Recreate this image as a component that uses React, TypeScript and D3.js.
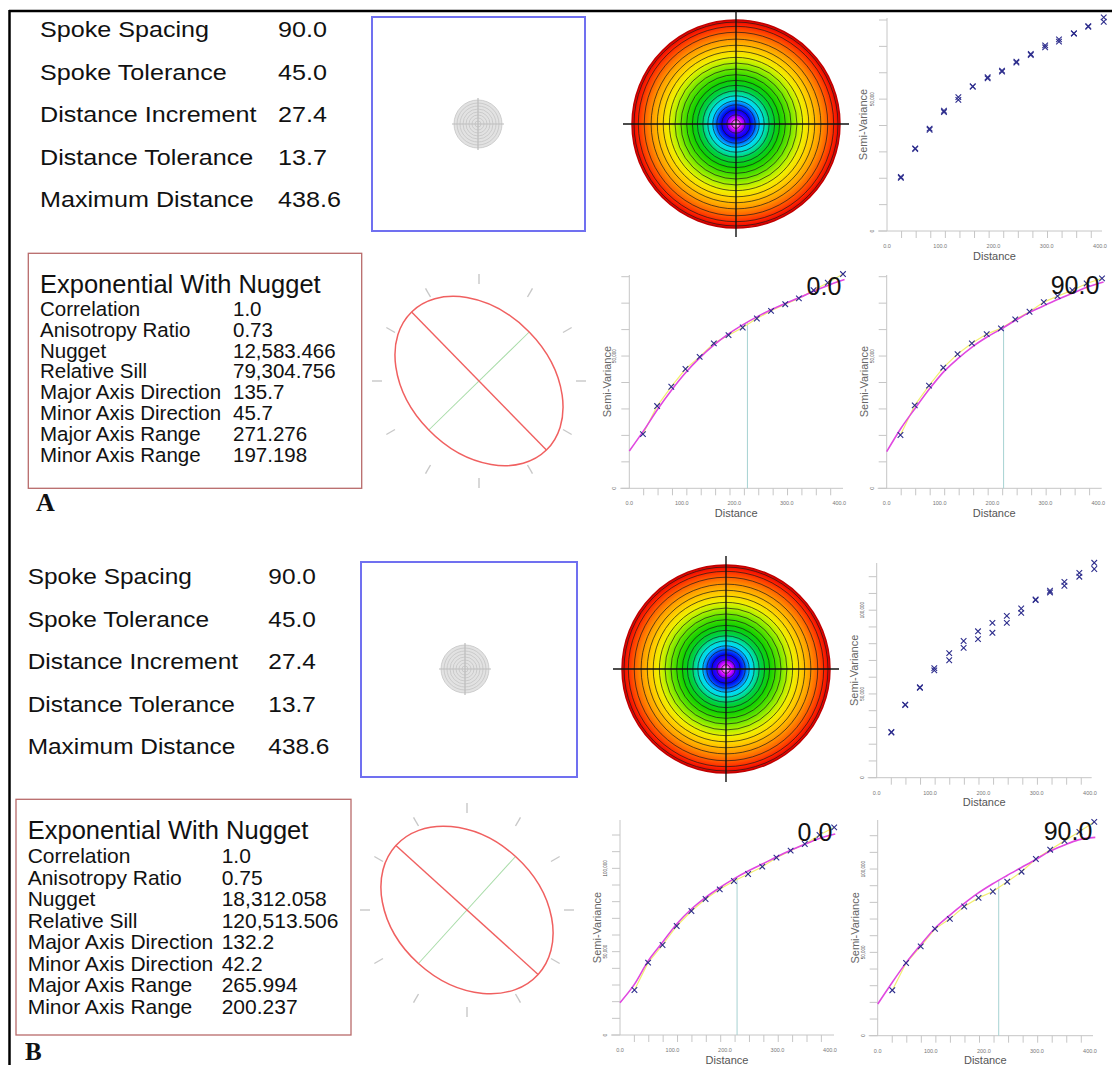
import React from "react";
import * as d3 from "d3";

// ---------- data ----------
const spokeLabels = ["Spoke Spacing", "Spoke Tolerance", "Distance Increment", "Distance Tolerance", "Maximum Distance"];
const spokeValuesA = ["90.0", "45.0", "27.4", "13.7", "438.6"];
const spokeValuesB = ["90.0", "45.0", "27.4", "13.7", "438.6"];

const modelTitle = "Exponential With Nugget";
const modelLabels = ["Correlation", "Anisotropy Ratio", "Nugget", "Relative Sill", "Major Axis Direction", "Minor Axis Direction", "Major Axis Range", "Minor Axis Range"];
const modelValuesA = ["1.0", "0.73", "12,583.466", "79,304.756", "135.7", "45.7", "271.276", "197.198"];
const modelValuesB = ["1.0", "0.75", "18,312.058", "120,513.506", "132.2", "42.2", "265.994", "200.237"];

const ellipseA = [271.276, 197.198, 135.7]; // major range, minor range, major direction
const ellipseB = [265.994, 200.237, 132.2];

const lagA = [26, 53, 80, 107, 134, 161, 189, 216, 243, 270, 297, 323, 351, 378, 407];
const gammaA0 = [20500, 31100, 38400, 45100, 49700, 54800, 57900, 60800, 64200, 67100, 69600, 71800, 74900, 77700, 81000];
const gammaA90 = [20150, 31350, 38800, 45600, 50750, 54800, 58300, 60450, 63850, 66750, 70400, 72650, 74900, 77450, 79350];

const lagB = [27.5, 53.5, 81, 108, 136, 163, 190, 217, 244, 271, 298, 325, 352, 380, 408];
const gammaB0 = [27000, 43400, 54000, 65400, 74400, 81600, 87400, 92400, 96600, 101000, 106400, 110600, 114600, 120000, 124600];
const gammaB90 = [27300, 43600, 53600, 64100, 70100, 77500, 82700, 86500, 92400, 98400, 106000, 111600, 116900, 122300, 128300];

const modelDist = [0, 27, 54, 81, 108, 135, 162, 189, 216, 243, 270, 297, 324, 351, 378, 410];
const modelA0 = [14100, 21700, 29900, 37300, 43900, 49500, 54300, 58400, 61800, 64800, 67500, 69900, 72100, 74500, 76700, 78900];
const modelA90 = [13850, 22700, 30300, 37600, 44100, 49100, 53500, 57100, 60200, 63450, 66500, 69000, 71500, 73700, 76000, 78000];
const modelB0 = [19400, 30200, 44600, 55600, 66600, 75300, 82300, 88200, 93500, 98200, 102400, 106700, 110700, 114300, 117800, 120600];
const modelB90 = [19000, 31800, 44000, 54600, 64500, 72100, 79100, 85500, 91000, 96000, 100800, 105600, 110600, 114300, 117500, 119000];

const rangeA = [225, 221];
const rangeB = [223, 228];

const xTickValues = [0, 100, 200, 300, 400];
const lagTicks = [27.4, 54.8, 82.2, 109.6, 137, 164.4, 191.8, 219.2, 246.6, 274, 301.4, 328.8, 356.2, 383.6, 411];
const yLabelsA = [50000];
const yLabelsB = [50000, 100000];

const contourRings = [18, 39, 60, 81, 98, 119, 140, 163, 184, 208, 232, 257, 281, 307, 332, 358, 387, 412, 430];
const maxDistance = 438.6;
const compassAngles = [0, 30, 60, 90, 120, 150, 180, 210, 240, 270, 300, 330];
const targetRings = [54.8, 109.6, 164.4, 219.2, 274, 328.8, 383.6, 438.6];

const rainbowStops: [number, string][] = [
  [0, "#ffffff"], [0.03, "#ff50ff"], [0.065, "#c000ff"], [0.1, "#3000ff"], [0.14, "#0000f0"],
  [0.19, "#0068ff"], [0.23, "#00d8ff"], [0.28, "#00e0b8"], [0.34, "#00d040"], [0.42, "#10d000"],
  [0.5, "#50e000"], [0.58, "#a8f000"], [0.65, "#f0f000"], [0.72, "#ffd000"], [0.8, "#ffa000"],
  [0.88, "#ff6000"], [0.95, "#ff2000"], [1, "#e00000"],
];

const FONT = "'Liberation Sans', Arial, Helvetica, sans-serif";

// ---------- components ----------
function SpokeBlock({ x, xv, y0, step, fs, sx, values }: any) {
  return (
    <g fontSize={fs} fill="#111">
      {spokeLabels.map((l, i) => (
        <g key={l}>
          <text transform={`translate(${x},${y0 + i * step}) scale(${sx},1)`}>{l}</text>
          <text transform={`translate(${xv},${y0 + i * step}) scale(${sx},1)`}>{values[i]}</text>
        </g>
      ))}
    </g>
  );
}

function ModelBox({ x0, y0, x1, y1, tx, vx, titleY, itemY, step, tfs, fs, values }: any) {
  return (
    <g fill="#111">
      <rect x={x0} y={y0} width={x1 - x0} height={y1 - y0} fill="none" stroke="#b86a6a" strokeWidth={1.3} />
      <text transform={`translate(${tx},${titleY}) scale(1.02,1)`} fontSize={tfs}>{modelTitle}</text>
      {modelLabels.map((l, i) => (
        <g key={l} fontSize={fs}>
          <text x={tx} y={itemY + i * step}>{l}</text>
          <text x={vx} y={itemY + i * step}>{values[i]}</text>
        </g>
      ))}
    </g>
  );
}

function TargetBox({ x0, y0, x1, y1, cx, cy }: any) {
  const r = d3.scaleLinear().domain([0, maxDistance]).range([0, 24]);
  return (
    <g>
      <rect x={x0} y={y0} width={x1 - x0} height={y1 - y0} fill="#fff" stroke="#7070f0" strokeWidth={2} />
      <circle cx={cx} cy={cy} r={r(maxDistance)} fill="#e2e2e2" />
      {targetRings.map((d) => (
        <circle key={d} cx={cx} cy={cy} r={r(d)} fill="none" stroke="#c4c4c4" strokeWidth={0.8} />
      ))}
      <line x1={cx - 26} x2={cx + 26} y1={cy} y2={cy} stroke="#bdbdbd" strokeWidth={1.2} />
      <line x1={cx} x2={cx} y1={cy - 26} y2={cy + 26} stroke="#bdbdbd" strokeWidth={1.2} />
    </g>
  );
}

function ContourDisc({ cx, cy, r, id }: any) {
  const rs = d3.scaleLinear().domain([0, maxDistance]).range([0, r]);
  return (
    <g>
      <defs>
        <radialGradient id={id} cx="50%" cy="50%" r="50%">
          {rainbowStops.map(([o, c]) => (
            <stop key={o} offset={o} stopColor={c} />
          ))}
        </radialGradient>
      </defs>
      <circle cx={cx} cy={cy} r={r} fill={`url(#${id})`} />
      {contourRings.map((d) => (
        <circle key={d} cx={cx} cy={cy} r={rs(d)} fill="none" stroke="#1a1a1a" strokeOpacity={0.7} strokeWidth={1} />
      ))}
      <circle cx={cx} cy={cy} r={r} fill="none" stroke="#c00000" strokeWidth={1.5} />
      <line x1={cx - r - 9} x2={cx + r + 9} y1={cy} y2={cy} stroke="#111" strokeWidth={1.4} />
      <line x1={cx} x2={cx} y1={cy - r - 9} y2={cy + r + 9} stroke="#111" strokeWidth={1.4} />
    </g>
  );
}

function EllipsePanel({ cx, cy, params, majorPx }: any) {
  const [major, minor, dir] = params;
  const s = d3.scaleLinear().domain([0, major]).range([0, majorPx]);
  const a = s(major);
  const b = s(minor);
  return (
    <g>
      {compassAngles.map((ang) => {
        const t = (ang * Math.PI) / 180;
        const ux = Math.sin(t), uy = -Math.cos(t);
        return (
          <line key={ang} x1={cx + ux * 97} y1={cy + uy * 97} x2={cx + ux * 107} y2={cy + uy * 107} stroke="#c8c8c8" strokeWidth={1.4} />
        );
      })}
      <g transform={`translate(${cx},${cy}) rotate(${dir - 90})`}>
        <line x1={0} x2={0} y1={-b} y2={b} stroke="#a8dca8" strokeWidth={1} />
        <line x1={-a} x2={a} y1={0} y2={0} stroke="#f06060" strokeWidth={1.4} />
        <ellipse cx={0} cy={0} rx={a} ry={b} fill="none" stroke="#f06060" strokeWidth={1.5} />
      </g>
    </g>
  );
}

function VarioChart(p: any) {
  const { axisX, x400, xEnd, yBottom, yAxisTop, yTopTick, yMax, labelValues, series, model, range, title, titleCx, titleCy, semiOff } = p;
  const x = d3.scaleLinear().domain([0, 400]).range([axisX, x400]);
  const y = d3.scaleLinear().domain([0, yMax]).range([yBottom, yTopTick]);
  const yTicks = d3.range(0, yMax + 1, 10000);
  const gray = "#c6c6c6";
  const mark = "M-2.8,-2.8L2.8,2.8M-2.8,2.8L2.8,-2.8";
  const line = d3
    .line<number>()
    .x((_, i) => x(modelDist[i]))
    .y((d) => y(d))
    .curve(d3.curveMonotoneX);
  let rangeTop = 0;
  if (model && range !== undefined) {
    rangeTop = y(d3.scaleLinear().domain(modelDist).range(model)(range));
  }
  const midY = (yAxisTop + yBottom) / 2;
  return (
    <g>
      <line x1={axisX} x2={axisX} y1={yAxisTop} y2={yBottom} stroke={gray} strokeWidth={1} />
      <line x1={axisX - 9} x2={xEnd} y1={yBottom} y2={yBottom} stroke={gray} strokeWidth={1} />
      {yTicks.map((t: number) => (
        <line key={t} x1={axisX - 8} x2={axisX} y1={y(t)} y2={y(t)} stroke={gray} />
      ))}
      {lagTicks.filter((t) => x(t) <= xEnd + 1).map((t) => (
        <line key={t} x1={x(t)} x2={x(t)} y1={yBottom} y2={yBottom + 7} stroke={gray} />
      ))}
      {xTickValues.map((t) => (
        <text key={t} x={x(t)} y={yBottom + 17} fontSize={5.5} textAnchor="middle" fill="#777">
          {t.toFixed(1)}
        </text>
      ))}
      <text x={(axisX + xEnd) / 2} y={yBottom + 28.5} fontSize={11} textAnchor="middle" fill="#555">
        Distance
      </text>
      <text transform={`translate(${axisX - semiOff + 4},${midY}) rotate(-90)`} fontSize={11} textAnchor="middle" fill="#666">
        Semi-Variance
      </text>
      <text transform={`translate(${axisX - 13},${y(0)}) rotate(-90)`} fontSize={5} textAnchor="middle" fill="#555">
        0
      </text>
      {labelValues.map((v: number) => (
        <text key={v} transform={`translate(${axisX - 13},${y(v)}) rotate(-90)`} fontSize={4.5} textAnchor="middle" fill="#444">
          {d3.format(",")(v)}
        </text>
      ))}
      {model && range !== undefined && (
        <line x1={x(range)} x2={x(range)} y1={yBottom} y2={rangeTop} stroke="#a6d2d2" strokeWidth={1} />
      )}
      {model && series.length === 1 && (
        <path
          d={d3.line<number>().x((_, i) => x(series[0].lag[i])).y((d) => y(d))(series[0].gamma) || ""}
          fill="none"
          stroke="#f2ee70"
          strokeWidth={1.2}
        />
      )}
      {model && <path d={line(model) || ""} fill="none" stroke="#e048e0" strokeWidth={1.6} />}
      {series.map((s: any, si: number) =>
        s.gamma.map((g: number, i: number) => (
          <path key={`${si}-${i}`} d={mark} transform={`translate(${x(s.lag[i])},${y(g)})`} stroke="#2c2c8c" strokeWidth={1.1} fill="none" />
        ))
      )}
      {title && (
        <text x={titleCx} y={titleCy + 9} fontSize={25} textAnchor="middle" fill="#111">
          {title}
        </text>
      )}
    </g>
  );
}

export default function App() {
  return (
    <svg
      width={1112}
      height={1065}
      viewBox="0 0 1112 1065"
      style={{ position: "absolute", left: 0, top: 0, background: "#fff" }}
      fontFamily={FONT}
    >
      <rect width={1112} height={1065} fill="#fff" />
      {/* frame */}
      <line x1={9} x2={1112} y1={11} y2={11} stroke="#000" strokeWidth={2.5} />
      <line x1={9.5} x2={9.5} y1={10} y2={1065} stroke="#000" strokeWidth={2.5} />

      {/* ---------- Panel A ---------- */}
      <SpokeBlock x={40} xv={278} y0={37} step={42.5} fs={21.5} sx={1.17} values={spokeValuesA} />
      <TargetBox x0={372} y0={17} x1={585} y1={231} cx={478} cy={124} />
      <ContourDisc cx={736} cy={124} r={104} id="rainA" />
      <VarioChart
        axisX={887} x400={1100} xEnd={1102} yBottom={231} yAxisTop={18} yTopTick={20} yMax={80000}
        labelValues={yLabelsA}
        series={[{ lag: lagA, gamma: gammaA0 }, { lag: lagA, gamma: gammaA90 }]}
        semiOff={24}
      />
      <ModelBox x0={28.3} y0={253.3} x1={361.7} y1={488.3} tx={40} vx={233} titleY={293} itemY={316} step={20.8} tfs={25} fs={20.5} values={modelValuesA} />
      <EllipsePanel cx={479} cy={381} params={ellipseA} majorPx={96.5} />
      <VarioChart
        axisX={629.3} x400={839.3} xEnd={843} yBottom={488.3} yAxisTop={275} yTopTick={276.7} yMax={80000}
        labelValues={yLabelsA}
        series={[{ lag: lagA, gamma: gammaA0 }]}
        model={modelA0} range={rangeA[0]} title="0.0" titleCx={824} titleCy={286} semiOff={22}
      />
      <VarioChart
        axisX={886.7} x400={1098.3} xEnd={1101.7} yBottom={488.3} yAxisTop={275} yTopTick={276.7} yMax={80000}
        labelValues={yLabelsA}
        series={[{ lag: lagA, gamma: gammaA90 }]}
        model={modelA90} range={rangeA[1]} title="90.0" titleCx={1075} titleCy={285} semiOff={23}
      />
      <text x={36} y={511} fontFamily="'Liberation Serif', 'Times New Roman', serif" fontWeight="bold" fontSize={26} fill="#111">
        A
      </text>

      {/* ---------- Panel B ---------- */}
      <SpokeBlock x={27.7} xv={268.3} y0={584} step={42.6} fs={22} sx={1.11} values={spokeValuesB} />
      <TargetBox x0={361} y0={562} x1={577} y1={777} cx={465} cy={669} />
      <ContourDisc cx={726} cy={669} r={104} id="rainB" />
      <VarioChart
        axisX={876.7} x400={1090} xEnd={1091.7} yBottom={777.7} yAxisTop={563} yTopTick={576.7} yMax={120000}
        labelValues={yLabelsB}
        series={[{ lag: lagB, gamma: gammaB0 }, { lag: lagB, gamma: gammaB90 }]}
        semiOff={23}
      />
      <ModelBox x0={16} y0={799.3} x1={351} y1={1035} tx={27.7} vx={221.7} titleY={839} itemY={863.3} step={21.5} tfs={25} fs={21} values={modelValuesB} />
      <EllipsePanel cx={467} cy={910} params={ellipseB} majorPx={96} />
      <VarioChart
        axisX={620} x400={830} xEnd={834} yBottom={1035} yAxisTop={820} yTopTick={835} yMax={120000}
        labelValues={yLabelsB}
        series={[{ lag: lagB, gamma: gammaB0 }]}
        model={modelB0} range={rangeB[0]} title="0.0" titleCx={815} titleCy={832} semiOff={23}
      />
      <VarioChart
        axisX={877.7} x400={1090} xEnd={1093} yBottom={1035.7} yAxisTop={820} yTopTick={835.7} yMax={120000}
        labelValues={yLabelsB}
        series={[{ lag: lagB, gamma: gammaB90 }]}
        model={modelB90} range={rangeB[1]} title="90.0" titleCx={1068} titleCy={831} semiOff={23}
      />
      <text x={25} y={1060} fontFamily="'Liberation Serif', 'Times New Roman', serif" fontWeight="bold" fontSize={25} fill="#111">
        B
      </text>
    </svg>
  );
}
